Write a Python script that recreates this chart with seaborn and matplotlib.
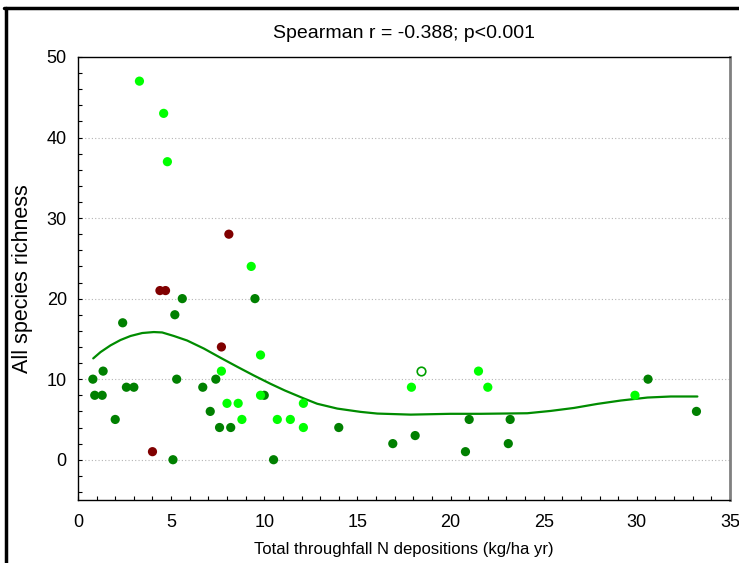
import numpy as np
import pandas as pd
import seaborn as sns
import matplotlib.pyplot as plt
from matplotlib.lines import Line2D
from matplotlib.ticker import MultipleLocator

# Pontos
x_claro = [3.3, 4.6, 4.8, 9.3, 9.8, 7.7, 9.8, 8.0, 8.6, 8.8, 10.7, 11.4, 12.1, 12.1, 17.9, 21.5, 22.0, 29.9]
y_claro = [47, 43, 37, 24, 13, 11, 8, 7, 7, 5, 5, 5, 4, 7, 9, 11, 9, 8]

x_vermelho = [8.1, 4.4, 4.7, 7.7, 4.0]
y_vermelho = [28, 21, 21, 14, 1]

x_escuro = [5.6, 9.5, 2.4, 5.2, 0.8, 1.35, 5.3, 7.4, 2.6, 3.0, 6.7, 0.9, 1.3, 10.0, 7.1,
            2.0, 7.6, 8.2, 5.1, 10.5, 14.0, 16.9, 18.1, 21.0, 20.8, 23.2, 23.1, 30.6, 33.2]
y_escuro = [20, 20, 17, 18, 10, 11, 10, 10, 9, 9, 9, 8, 8, 8, 6,
            5, 4, 4, 0, 0, 4, 2, 3, 5, 1, 5, 2, 10, 6]

x_aberto = [18.4]
y_aberto = [11]

# Curva ajustada
curva_x = [0.82, 1.21, 1.75, 2.28, 2.82, 3.45, 4.07, 4.52, 5.15, 5.86, 6.76, 7.65, 8.55, 9.44,
           10.34, 11.1, 12.13, 12.84, 13.92, 15.17, 16.07, 17.86, 20.0, 21.62, 22.69, 24.12,
           25.38, 26.63, 27.88, 29.14, 30.57, 31.82, 33.25]
curva_y = [12.58, 13.36, 14.2, 14.86, 15.36, 15.73, 15.85, 15.8, 15.36, 14.8, 13.8, 12.66, 11.54,
           10.46, 9.42, 8.6, 7.6, 6.95, 6.35, 5.94, 5.73, 5.6, 5.7, 5.7, 5.73, 5.77,
           6.06, 6.43, 6.93, 7.35, 7.72, 7.85, 7.85]

df = pd.concat([
    pd.DataFrame({"x": x_escuro, "y": y_escuro, "grupo": "escuro"}),
    pd.DataFrame({"x": x_claro, "y": y_claro, "grupo": "claro"}),
    pd.DataFrame({"x": x_vermelho, "y": y_vermelho, "grupo": "vermelho"}),
])
cores = {"escuro": "#008000", "claro": "#00ff00", "vermelho": "#800000"}

sns.set_style("white")
plt.rcParams["font.family"] = ["Liberation Sans", "DejaVu Sans"]
plt.rcParams["text.color"] = "black"
plt.rcParams["axes.labelcolor"] = "black"
plt.rcParams["xtick.color"] = "black"
plt.rcParams["ytick.color"] = "black"

fig = plt.figure(figsize=(7.39, 5.63), dpi=100)
ax = fig.add_axes([0.1055, 0.1119, 0.8823, 0.7869])

ax.set_xlim(0, 35)
ax.set_ylim(-5, 50)
for v in [0, 10, 20, 30, 40]:
    ax.axhline(v, color="#b4b4b4", lw=0.8, ls=(0, (1, 2)), zorder=0)

sns.lineplot(x=curva_x, y=curva_y, sort=False, estimator=None, color="#008c00", lw=1.6, ax=ax)
sns.scatterplot(data=df, x="x", y="y", hue="grupo", palette=cores, s=44, edgecolor="none",
                legend=False, ax=ax, zorder=3)
sns.scatterplot(x=x_aberto, y=y_aberto, s=38, facecolor="white", edgecolor="#00a000",
                linewidth=1.2, legend=False, ax=ax, zorder=3)

ax.xaxis.set_major_locator(MultipleLocator(5))
ax.xaxis.set_minor_locator(MultipleLocator(1))
ax.set_yticks([0, 10, 20, 30, 40, 50])
ax.yaxis.set_minor_locator(MultipleLocator(2))
ax.tick_params(which="both", direction="in", length=3, width=0.8, color="black",
               bottom=True, left=True, top=False, right=False, labelsize=13)
ax.tick_params(axis="x", pad=10)
ax.tick_params(axis="y", pad=8)

for lado in ["left", "bottom", "top"]:
    ax.spines[lado].set_color("black")
    ax.spines[lado].set_linewidth(1.0)
ax.spines["right"].set_color("#808080")
ax.spines["right"].set_linewidth(2.0)

ax.set_title("Spearman r = -0.388; p<0.001", fontsize=14, pad=14)
ax.set_xlabel("Total throughfall N depositions (kg/ha yr)", fontsize=12, labelpad=8)
ax.set_ylabel("All species richness", fontsize=15.5, labelpad=10)

# Moldura externa (esquerda e topo)
fig.add_artist(Line2D([0.008, 0.008], [0, 0.986], transform=fig.transFigure, color="black", lw=2.5))
fig.add_artist(Line2D([0.006, 1.0], [0.986, 0.986], transform=fig.transFigure, color="black", lw=2.5))

fig.savefig("out.png", dpi=100)
